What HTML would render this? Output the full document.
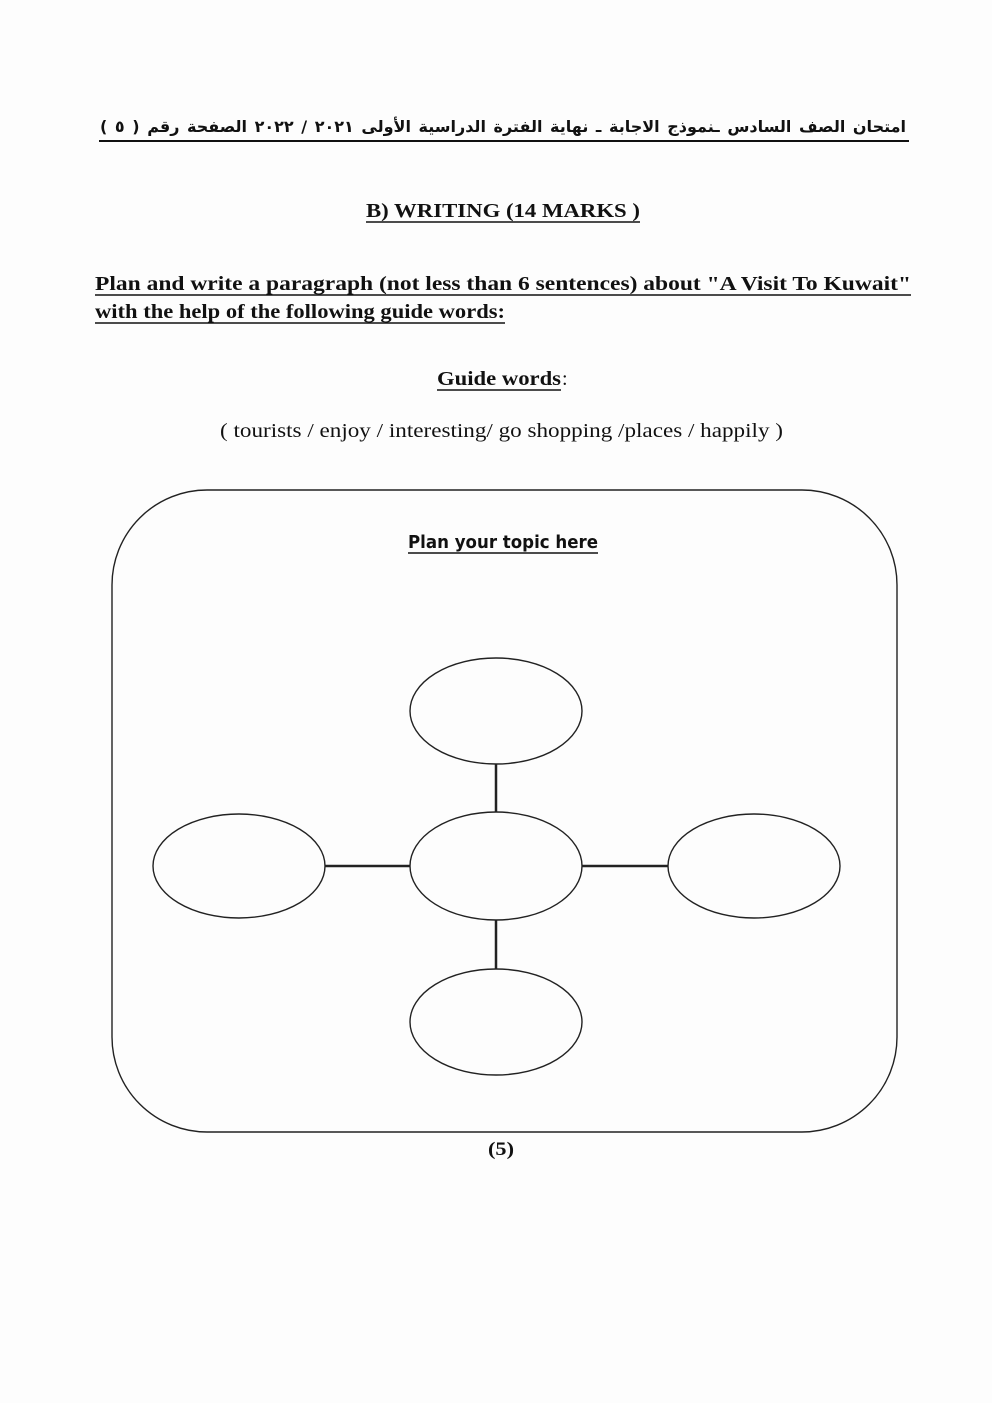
<!DOCTYPE html>
<html><head><meta charset="utf-8"><style>
html,body{margin:0;padding:0;background:#fdfdfd}
svg{display:block}
#ar{position:absolute;left:100px;top:113px;width:806px;direction:rtl;font-family:"DejaVu Sans","Liberation Sans",sans-serif;font-weight:bold;font-size:16px;line-height:28px;color:#111;text-align:justify;text-align-last:justify;white-space:nowrap;overflow:hidden}
</style></head><body>
<svg width="992" height="1403" viewBox="0 0 992 1403" xmlns="http://www.w3.org/2000/svg">
<rect width="992" height="1403" fill="#fdfdfd"/>
<line x1="99" y1="141" x2="909" y2="141" stroke="#111" stroke-width="2"/>
<g fill="#111" font-family="Liberation Serif, serif" font-weight="bold">
<text x="366" y="217" font-size="20" textLength="274" lengthAdjust="spacingAndGlyphs">B) WRITING (14 MARKS )</text>
<line x1="366" y1="222" x2="640" y2="222" stroke="#111" stroke-width="1.6"/>
<text x="95" y="290" font-size="20" textLength="816" lengthAdjust="spacingAndGlyphs">Plan and write a paragraph (not less than 6 sentences) about "A Visit To Kuwait"</text>
<line x1="95" y1="295" x2="911" y2="295" stroke="#111" stroke-width="1.6"/>
<text x="95" y="318" font-size="20" textLength="410" lengthAdjust="spacingAndGlyphs">with the help of the following guide words:</text>
<line x1="95" y1="323" x2="505" y2="323" stroke="#111" stroke-width="1.6"/>
<text x="437" y="385" font-size="20" textLength="124" lengthAdjust="spacingAndGlyphs">Guide words</text>
<line x1="437" y1="390" x2="561" y2="390" stroke="#111" stroke-width="1.6"/>
<text x="562" y="385" font-size="20" font-weight="normal">:</text>
<text x="220" y="437" font-size="20" font-weight="normal" textLength="563" lengthAdjust="spacingAndGlyphs">( tourists  / enjoy / interesting/ go shopping /places  / happily )</text>
<text x="488" y="1155" font-size="19" textLength="26" lengthAdjust="spacingAndGlyphs">(5)</text>
</g>
<g fill="#111" font-family="DejaVu Sans, Liberation Sans, sans-serif" font-weight="bold">
<text x="408" y="548" font-size="18" textLength="190" lengthAdjust="spacingAndGlyphs">Plan your topic here</text>
<line x1="408" y1="553" x2="598" y2="553" stroke="#111" stroke-width="1.5"/>
</g>
<g fill="none" stroke="#222" stroke-width="1.4">
<rect x="112" y="490" width="785" height="642" rx="95" ry="95"/>
<ellipse cx="496" cy="711" rx="86" ry="53"/>
<ellipse cx="496" cy="866" rx="86" ry="54"/>
<ellipse cx="239" cy="866" rx="86" ry="52"/>
<ellipse cx="754" cy="866" rx="86" ry="52"/>
<ellipse cx="496" cy="1022" rx="86" ry="53"/>
</g>
<g stroke="#222" stroke-width="2.5">
<line x1="496" y1="764" x2="496" y2="812"/>
<line x1="496" y1="920" x2="496" y2="969"/>
<line x1="325" y1="866" x2="410" y2="866"/>
<line x1="582" y1="866" x2="668" y2="866"/>
</g>
</svg>
<div id="ar">امتحان الصف السادس ـنموذج الاجابة ـ نهاية الفترة الدراسية الأولى ٢٠٢١ / ٢٠٢٢ الصفحة رقم ( ٥ )</div>
</body></html>
